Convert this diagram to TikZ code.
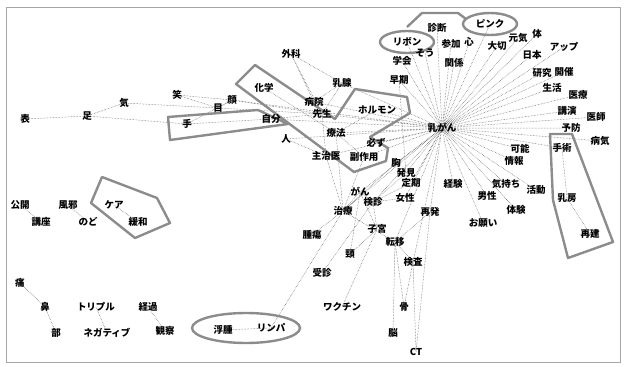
\documentclass[tikz,border=0pt]{standalone}
\usepackage{fontspec}
\setmainfont{Noto Sans CJK JP}
\usetikzlibrary{backgrounds}

\begin{document}
\begin{tikzpicture}[x=1pt,y=-1pt,
  word/.style={font=\fontsize{9.5}{10}\selectfont\bfseries,inner sep=0pt},
  link/.style={draw=black!65,line width=0.5pt,densely dotted},
  group/.style={draw=black!45,line width=2.4pt,line join=round}]

\useasboundingbox (0,0) rectangle (625,367);
\draw[black!35] (6,7) rectangle (620,362);

% Hub
\node[word] (nyugan) at (442,128) {乳がん};

% Words above and right of the hub
\node[word] (shindan) at (437,28) {診断};
\node[word] (ribon) at (407,42) {リボン};
\node[word] (pink) at (490,24) {ピンク};
\node[word] (sanka) at (451,44) {参加};
\node[word] (kokoro) at (469,42) {心};
\node[word] (sou) at (425,53) {そう};
\node[word] (gakkai) at (402,61) {学会};
\node[word] (kankei) at (454,63) {関係};
\node[word] (taisetsu) at (497,46) {大切};
\node[word] (genki) at (518,38) {元気};
\node[word] (karada) at (537,34) {体};
\node[word] (appu) at (564,47) {アップ};
\node[word] (nihon) at (532,55) {日本};
\node[word] (souki) at (399,80) {早期};
\node[word] (kenkyu) at (542,73) {研究};
\node[word] (kaisai) at (564,72) {開催};
\node[word] (seikatsu) at (552,88) {生活};
\node[word] (iryo) at (578,95) {医療};
\node[word] (koen) at (567,111) {講演};
\node[word] (ishi) at (596,117) {医師};
\node[word] (yobo) at (571,128) {予防};
\node[word] (byoki) at (600,141) {病気};
\node[word] (shujutsu) at (562,148) {手術};
\node[word] (kanou) at (520,149) {可能};
\node[word] (joho) at (514,161) {情報};
\node[word] (keiken) at (453,184) {経験};
\node[word] (kimochi) at (506,184) {気持ち};
\node[word] (katsudo) at (536,190) {活動};
\node[word] (dansei) at (487,196) {男性};
\node[word] (taiken) at (516,210) {体験};
\node[word] (onegai) at (483,223) {お願い};
\node[word] (nyubo) at (567,198) {乳房};
\node[word] (saiken) at (590,234) {再建};

% Words left and below the hub
\node[word] (geka) at (291,54) {外科};
\node[word] (nyusen) at (342,83) {乳腺};
\node[word] (kagaku) at (264,88) {化学};
\node[word] (byoin) at (314,102) {病院};
\node[word] (sensei) at (322,114) {先生};
\node[word] (horumon) at (377,110) {ホルモン};
\node[word] (ryoho) at (336,133) {療法};
\node[word] (kanarazu) at (376,143) {必ず};
\node[word] (shujii) at (326,156) {主治医};
\node[word] (fukusayo) at (364,157) {副作用};
\node[word] (mune) at (396,163) {胸};
\node[word] (hakken) at (406,173) {発見};
\node[word] (teiki) at (411,183) {定期};
\node[word] (gan) at (360,192) {がん};
\node[word] (kenshin) at (373,202) {検診};
\node[word] (josei) at (405,198) {女性};
\node[word] (chiryo) at (343,211) {治療};
\node[word] (saihatsu) at (430,212) {再発};
\node[word] (shikyu) at (377,229) {子宮};
\node[word] (teni) at (395,242) {転移};
\node[word] (kensa) at (413,262) {検査};
\node[word] (kei) at (350,254) {頸};
\node[word] (shuyo) at (312,235) {腫瘍};
\node[word] (jushin) at (322,273) {受診};
\node[word] (wakuchin) at (342,307) {ワクチン};
\node[word] (hone) at (404,307) {骨};
\node[word] (no) at (393,333) {脳};
\node[word] (ct) at (416,352) {CT};
\node[word] (fushu) at (223,330) {浮腫};
\node[word] (rinpa) at (271,328) {リンパ};

% Words on the left
\node[word] (omote) at (25,119) {表};
\node[word] (ashi) at (87,116) {足};
\node[word] (ki) at (124,103) {気};
\node[word] (warai) at (177,95) {笑};
\node[word] (me) at (218,108) {目};
\node[word] (kao) at (232,100) {顔};
\node[word] (te) at (187,124) {手};
\node[word] (jibun) at (271,119) {自分};
\node[word] (hito) at (286,139) {人};
\node[word] (kokai) at (20,205) {公開};
\node[word] (koza) at (41,222) {講座};
\node[word] (kaze) at (68,205) {風邪};
\node[word] (nodo) at (88,222) {のど};
\node[word] (kea) at (114,205) {ケア};
\node[word] (kanwa) at (138,222) {緩和};
\node[word] (itami) at (20,283) {痛};
\node[word] (hana) at (45,307) {鼻};
\node[word] (bu) at (56,333) {部};
\node[word] (toripuru) at (96,307) {トリプル};
\node[word] (negatibu) at (107,333) {ネガティブ};
\node[word] (keika) at (148,307) {経過};
\node[word] (kansatsu) at (165,331) {観察};

\begin{pgfonlayer}{background}
% Links from the hub
\draw[link] (nyugan.center) -- (shindan.center) (nyugan.center) -- (ribon.center)
  (nyugan.center) -- (pink.center) (nyugan.center) -- (sanka.center)
  (nyugan.center) -- (kokoro.center) (nyugan.center) -- (sou.center)
  (nyugan.center) -- (gakkai.center) (nyugan.center) -- (kankei.center)
  (nyugan.center) -- (taisetsu.center) (nyugan.center) -- (genki.center)
  (nyugan.center) -- (karada.center) (nyugan.center) -- (appu.center)
  (nyugan.center) -- (nihon.center) (nyugan.center) -- (souki.center)
  (nyugan.center) -- (kenkyu.center) (nyugan.center) -- (kaisai.center)
  (nyugan.center) -- (seikatsu.center) (nyugan.center) -- (iryo.center)
  (nyugan.center) -- (koen.center) (nyugan.center) -- (ishi.center)
  (nyugan.center) -- (yobo.center) (nyugan.center) -- (byoki.center)
  (nyugan.center) -- (shujutsu.center) (nyugan.center) -- (kanou.center)
  (nyugan.center) -- (joho.center) (nyugan.center) -- (keiken.center)
  (nyugan.center) -- (kimochi.center) (nyugan.center) -- (katsudo.center)
  (nyugan.center) -- (dansei.center) (nyugan.center) -- (taiken.center)
  (nyugan.center) -- (onegai.center) (nyugan.center) -- (saihatsu.center);
\draw[link] (nyugan.center) -- (horumon.center) (nyugan.center) -- (ryoho.center)
  (nyugan.center) -- (sensei.center) (nyugan.center) -- (byoin.center)
  (nyugan.center) -- (nyusen.center) (nyugan.center) -- (jibun.center)
  (nyugan.center) -- (hito.center) (nyugan.center) -- (kao.center)
  (nyugan.center) -- (kanarazu.center) (nyugan.center) -- (shujii.center)
  (nyugan.center) -- (fukusayo.center) (nyugan.center) -- (mune.center)
  (nyugan.center) -- (hakken.center) (nyugan.center) -- (teiki.center)
  (nyugan.center) -- (gan.center) (nyugan.center) -- (kenshin.center)
  (nyugan.center) -- (josei.center) (nyugan.center) -- (chiryo.center)
  (nyugan.center) -- (teni.center) (nyugan.center) -- (kensa.center);

% Links in the middle
\draw[link] (geka.center) -- (nyusen.center) (geka.center) -- (byoin.center)
  (geka.center) -- (sensei.center) (nyusen.center) -- (byoin.center)
  (nyusen.center) -- (sensei.center) (kagaku.center) -- (ryoho.center)
  (byoin.center) -- (sensei.center) (horumon.center) -- (ryoho.center)
  (ryoho.center) -- (fukusayo.center) (ryoho.center) -- (chiryo.center)
  (shujii.center) -- (sensei.center) (shujii.center) -- (chiryo.center)
  (fukusayo.center) -- (chiryo.center) (souki.center) -- (hakken.center)
  (hakken.center) -- (kenshin.center) (teiki.center) -- (kenshin.center)
  (mune.center) -- (chiryo.center) (gan.center) -- (kenshin.center)
  (gan.center) -- (chiryo.center) (gan.center) -- (shikyu.center)
  (kenshin.center) -- (shikyu.center) (kenshin.center) -- (josei.center)
  (kenshin.center) -- (jushin.center) (chiryo.center) -- (teni.center)
  (chiryo.center) -- (shuyo.center) (chiryo.center) -- (rinpa.center)
  (shikyu.center) -- (kei.center) (gan.center) -- (kei.center)
  (shikyu.center) -- (wakuchin.center) (teni.center) -- (kensa.center)
  (teni.center) -- (hone.center) (teni.center) -- (no.center)
  (teni.center) -- (saihatsu.center) (kensa.center) -- (hone.center)
  (kensa.center) -- (ct.center) (saihatsu.center) -- (ct.center)
  (fushu.center) -- (rinpa.center) (shujutsu.center) -- (nyubo.center)
  (nyubo.center) -- (saiken.center);

% Links on the left
\draw[link] (omote.center) -- (ashi.center) (ashi.center) -- (ki.center)
  (ashi.center) -- (te.center) (ki.center) -- (me.center)
  (warai.center) -- (kao.center) (warai.center) -- (me.center)
  (me.center) -- (kao.center) (te.center) -- (jibun.center)
  (te.center) -- (kao.center) (kao.center) -- (sensei.center)
  (me.center) -- (sensei.center) (jibun.center) -- (sensei.center)
  (hito.center) -- (shujii.center);
\draw[link] (kokai.center) -- (koza.center) (kaze.center) -- (nodo.center)
  (kea.center) -- (kanwa.center) (itami.center) -- (hana.center)
  (hana.center) -- (bu.center) (toripuru.center) -- (negatibu.center)
  (keika.center) -- (kansatsu.center);

% Groups
\draw[group] (ribon.center) ellipse (27 and 11);
\draw[group] (pink.center) ellipse (27 and 11);
\draw[group] (407,27) -- (422,13) -- (458,13) -- (466,19);
\draw[group] (246,328) ellipse (54 and 15);
\draw[group] (236,84) -- (255,65) -- (335,119) -- (355,89) -- (407,97) -- (410,113)
  -- (370,137) -- (388,148) -- (386,161) -- (354,172) -- cycle;
\draw[group] (168,117) -- (258,110) -- (288,124) -- (170,140) -- cycle;
\draw[group] (91,203) -- (102,177) -- (157,198) -- (170,223) -- (135,238) -- cycle;
\draw[group] (550,134) -- (572,134) -- (613,242) -- (568,258) -- (553,200) -- cycle;
\end{pgfonlayer}

\end{tikzpicture}
\end{document}
